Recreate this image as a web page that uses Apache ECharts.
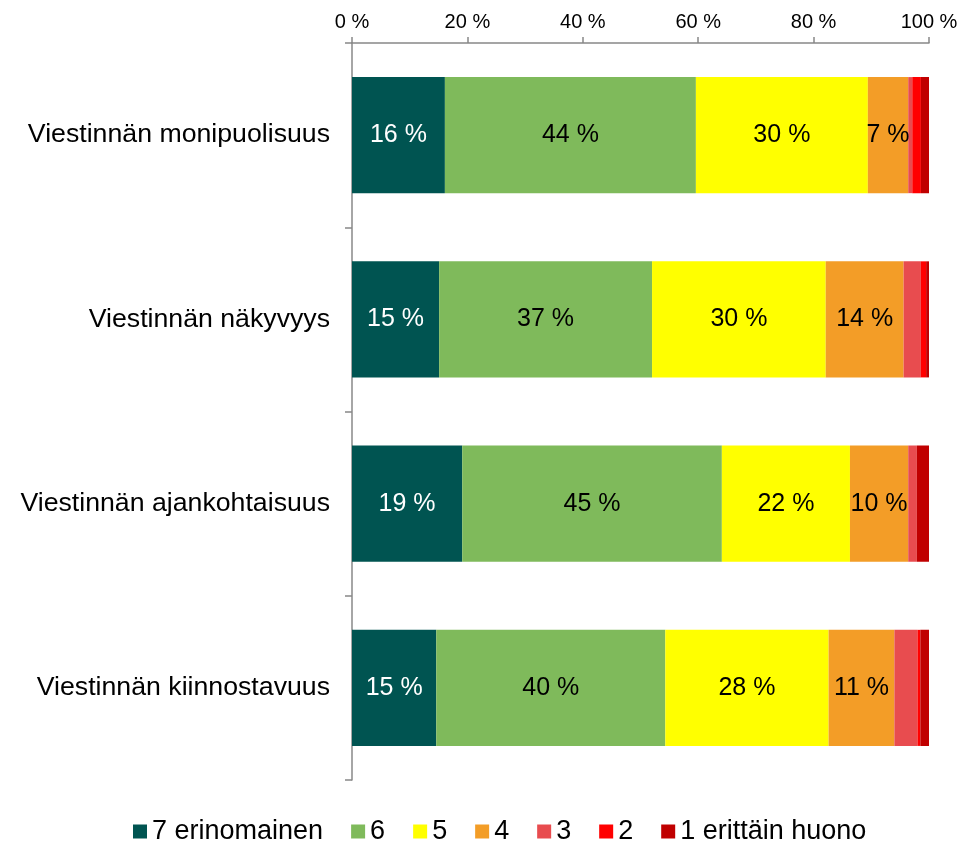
<!DOCTYPE html>
<html><head><meta charset="utf-8">
<script src="https://cdn.jsdelivr.net/npm/echarts@6/dist/echarts.min.js"></script>
<style>html,body{margin:0;padding:0;background:#fff}#c{width:974px;height:850px}</style>
</head><body><div id="c"></div>
<script>
const categories = ["Viestinnän monipuolisuus","Viestinnän näkyvyys","Viestinnän ajankohtaisuus","Viestinnän kiinnostavuus"];
const seriesNames = ["7 erinomainen","6","5","4","3","2","1 erittäin huono"];
const s7 = [16.1, 15.1, 19.1, 14.6];
const s6 = [43.5, 36.9, 45.0, 39.7];
const s5 = [29.8, 30.1, 22.2, 28.3];
const s4 = [7.0, 13.5, 10.1, 11.4];
const s3 = [0.7, 3.0, 1.5, 4.0];
const s2 = [1.5, 0.9, 0, 0.5];
const s1 = [1.5, 0.5, 2.1, 1.6];
const xTicks = [0,20,40,60,80,100];
const colors = ["#005451","#7FBA5B","#FFFF00","#F39D27","#E84C4F","#FF0000","#C00000"];
const allData = [s7,s6,s5,s4,s3,s2,s1];

const chart = echarts.init(document.getElementById('c'));
const font = "Liberation Sans, Arial, sans-serif";
chart.setOption({
  animation:false,
  color: colors,
  textStyle:{fontFamily:font},
  grid:{left:352,right:45,top:43,bottom:70,containLabel:false},
  xAxis:{type:'value',position:'top',min:xTicks[0],max:xTicks[xTicks.length-1],interval:20,
    axisLine:{show:true,lineStyle:{color:'#888',width:1.5}},
    axisTick:{show:true,inside:false,length:6,lineStyle:{color:'#888',width:1.5}},
    splitLine:{show:false},
    axisLabel:{formatter:v=>v+' %',color:'#000',fontSize:20,fontFamily:font,margin:11}},
  yAxis:{type:'category',data:categories,inverse:true,
    axisLine:{show:true,lineStyle:{color:'#888',width:1.5}},
    axisTick:{show:true,length:7,lineStyle:{color:'#888',width:1.5}},
    axisLabel:{color:'#000',fontSize:26.7,fontFamily:font,margin:22}},
  legend:{bottom:0,left:128,itemWidth:14,itemHeight:14,itemGap:28,itemStyle:{borderWidth:0},
    icon:'rect',textStyle:{fontSize:27,color:'#000',fontFamily:font},
    data:seriesNames},
  series: seriesNames.map((n,i)=>({
    name:n,type:'bar',stack:'t',barWidth:'63%',
    data:allData[i],
    itemStyle:{color:colors[i]},
    label:{show:true,position:'inside',fontSize:25,fontFamily:font,
      color: i===0 ? '#fff' : '#000',
      formatter:p=> p.value>=6 ? Math.round(p.value)+' %' : ''}
  }))
});
</script></body></html>
